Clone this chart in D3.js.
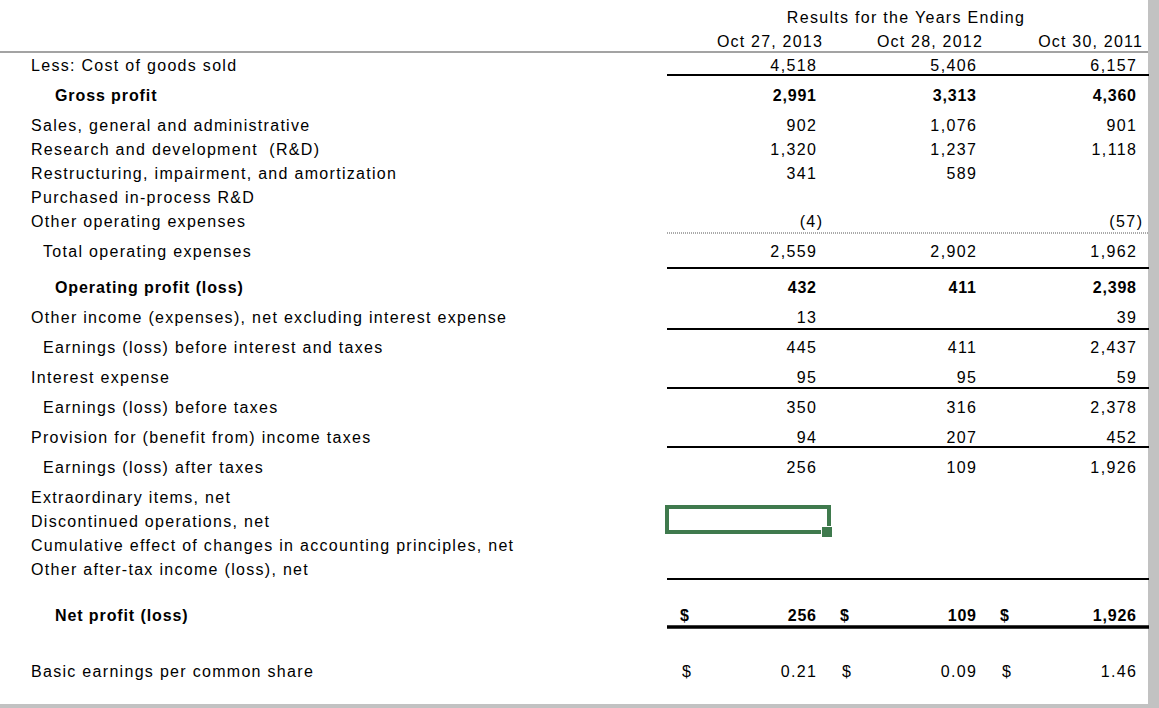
<!DOCTYPE html>
<html>
<head>
<meta charset="utf-8">
<script src="https://cdn.jsdelivr.net/npm/d3@7"></script>
<style>
  body { margin: 0; background: #fff; }
  svg { display: block; font-family: "Liberation Sans", Arial, sans-serif; font-size: 16px; }
  svg text { white-space: pre; }
</style>
</head>
<body>
<svg id="chart" width="1159" height="708"></svg>
<script>
// ---- data ----
const title = "Results for the Years Ending";
const years = ["Oct 27, 2013", "Oct 28, 2012", "Oct 30, 2011"];
const rowLabels = [
  "Less: Cost of goods sold",
  "Gross profit",
  "Sales, general and administrative",
  "Research and development  (R&D)",
  "Restructuring, impairment, and amortization",
  "Purchased in-process R&D",
  "Other operating expenses",
  "Total operating expenses",
  "Operating profit (loss)",
  "Other income (expenses), net excluding interest expense",
  "Earnings (loss) before interest and taxes",
  "Interest expense",
  "Earnings (loss) before taxes",
  "Provision for (benefit from) income taxes",
  "Earnings (loss) after taxes",
  "Extraordinary items, net",
  "Discontinued operations, net",
  "Cumulative effect of changes in accounting principles, net",
  "Other after-tax income (loss), net",
  "Net profit (loss)",
  "Basic earnings per common share"
];
const fy2013 = [4518, 2991, 902, 1320, 341, null, -4, 2559, 432, 13, 445, 95, 350, 94, 256, null, null, null, null, 256, 0.21];
const fy2012 = [5406, 3313, 1076, 1237, 589, null, null, 2902, 411, null, 411, 95, 316, 207, 109, null, null, null, null, 109, 0.09];
const fy2011 = [6157, 4360, 901, 1118, null, null, -57, 1962, 2398, 39, 2437, 59, 2378, 452, 1926, null, null, null, null, 1926, 1.46];

// ---- layout ----
const W = 1159, H = 708;
const rowSteps = [0, 30, 30, 24, 24, 24, 24, 30, 36, 30, 30, 30, 30, 30, 30, 30, 24, 24, 24, 46, 56];
const rowIndent = [31, 55, 31, 31, 31, 31, 31, 43, 55, 31, 43, 31, 43, 31, 43, 31, 31, 31, 31, 55, 31];
const boldRows = new Set([1, 8, 19]);
const dollarRows = [19, 20];
const epsRow = 20;
const rules = [
  {row: 0, off: 10, w: 2},
  {row: 6, off: 12, w: 1, dash: "1,1"},
  {row: 7, off: 17, w: 2},
  {row: 9, off: 12, w: 2},
  {row: 11, off: 11, w: 2},
  {row: 13, off: 10, w: 2},
  {row: 18, off: 10, w: 2},
  {row: 19, off: 12, w: 3.5}
];

const svg = d3.select("#chart");

const y = d3.scaleOrdinal()
  .domain(d3.range(rowLabels.length))
  .range(Array.from(d3.cumsum(rowSteps), d => 65 + d));

const x = d3.scalePoint()
  .domain(years)
  .range([816, 1136]);

const series = [fy2013, fy2012, fy2011];
const fmtInt = d3.format(",");
const fmtEps = d3.format(".2f");

// frame
svg.append("rect").attr("x", 0).attr("y", 51).attr("width", 1148).attr("height", 2).attr("fill", "#a3a3a3");
svg.append("rect").attr("x", 1148).attr("y", 0).attr("width", W - 1148).attr("height", H).attr("fill", "#c2c2c2");
svg.append("rect").attr("x", 0).attr("y", 704).attr("width", W).attr("height", 4).attr("fill", "#c2c2c2");

// header
svg.append("text")
  .attr("x", x(years[1]) - 70)
  .attr("y", 17).attr("dy", "0.35em")
  .attr("text-anchor", "middle")
  .style("letter-spacing", "1.3px")
  .text(title);

svg.selectAll("text.year")
  .data(years)
  .enter().append("text")
  .attr("class", "year")
  .attr("x", d => x(d) + 7)
  .attr("y", 41).attr("dy", "0.35em")
  .attr("text-anchor", "end")
  .style("letter-spacing", "1.2px")
  .text(d => d);

// row labels
svg.selectAll("text.label")
  .data(rowLabels)
  .enter().append("text")
  .attr("class", "label")
  .attr("x", (d, i) => rowIndent[i])
  .attr("y", (d, i) => y(i)).attr("dy", "0.35em")
  .attr("font-weight", (d, i) => boldRows.has(i) ? "bold" : null)
  .style("letter-spacing", (d, i) => boldRows.has(i) ? "0.9px" : "1.3px")
  .text(d => d);

// rules
svg.selectAll("line.rule")
  .data(rules)
  .enter().append("line")
  .attr("class", "rule")
  .attr("x1", 667).attr("x2", 1149)
  .attr("y1", d => y(d.row) + d.off).attr("y2", d => y(d.row) + d.off)
  .attr("stroke", d => d.dash ? "#555" : "#000")
  .attr("stroke-width", d => d.w)
  .attr("stroke-dasharray", d => d.dash || null);

// values
years.forEach((yr, c) => {
  const cells = series[c]
    .map((v, r) => ({v, r}))
    .filter(d => d.v !== null);
  svg.selectAll("text.v" + c)
    .data(cells)
    .enter().append("text")
    .attr("class", "v" + c)
    .attr("x", d => {
      const ls = boldRows.has(d.r) ? 0.8 : 1.4;
      return x(yr) + ls + (d.v < 0 ? 6 : 0);
    })
    .attr("y", d => y(d.r)).attr("dy", "0.35em")
    .attr("text-anchor", "end")
    .attr("font-weight", d => boldRows.has(d.r) ? "bold" : null)
    .style("letter-spacing", d => boldRows.has(d.r) ? "0.8px" : "1.4px")
    .text(d => d.r === epsRow ? fmtEps(d.v)
      : d.v < 0 ? "(" + fmtInt(-d.v) + ")" : fmtInt(d.v));

  svg.selectAll("text.d" + c)
    .data(dollarRows)
    .enter().append("text")
    .attr("class", "d" + c)
    .attr("x", r => x(yr) - (boldRows.has(r) ? 136 : 134))
    .attr("y", r => y(r)).attr("dy", "0.35em")
    .attr("font-weight", r => boldRows.has(r) ? "bold" : null)
    .text("$");
});

// active cell selection
const selY = y(16) - 1;
const selX0 = x(years[0]) - 151, selX1 = x(years[0]) + 15;
svg.append("rect")
  .attr("x", selX0 + 2).attr("y", selY - 13)
  .attr("width", selX1 - selX0 - 4).attr("height", 25)
  .attr("fill", "none").attr("stroke", "#3f7a4d").attr("stroke-width", 4);
svg.append("rect")
  .attr("x", selX1 - 10).attr("y", selY + 6)
  .attr("width", 12).attr("height", 12)
  .attr("fill", "#fff");
svg.append("rect")
  .attr("x", selX1 - 9).attr("y", selY + 7)
  .attr("width", 10).attr("height", 10)
  .attr("fill", "#3f7a4d");
</script>
</body>
</html>
